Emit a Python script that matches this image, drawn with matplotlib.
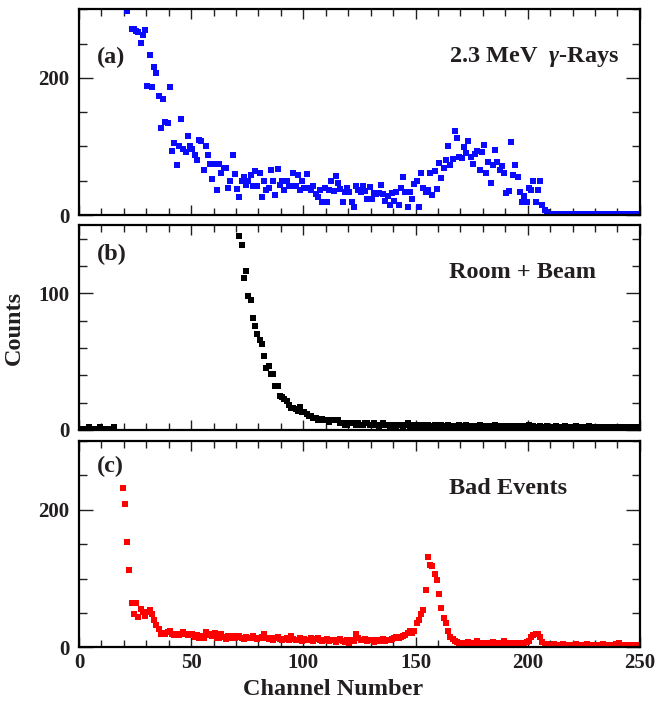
import numpy as np
import matplotlib
matplotlib.use("Agg")
import matplotlib.pyplot as plt
from matplotlib.ticker import MultipleLocator

plt.rcParams['font.family'] = ['Liberation Serif', 'DejaVu Serif']
plt.rcParams['font.weight'] = 'bold'
plt.rcParams['axes.labelweight'] = 'bold'
plt.rcParams['mathtext.fontset'] = 'custom'
plt.rcParams['mathtext.it'] = 'Liberation Serif:italic:bold'
plt.rcParams['mathtext.rm'] = 'Liberation Serif:bold'

# (a) 2.3 MeV gamma-rays, channels 21..250
gamma_ch = np.arange(21, 251)
gamma_counts = [
    297, 320, 272, 272, 268, 267, 251, 262, 270, 188,
    234, 187, 216, 207, 174, 127, 169, 136, 134, 187,
    94, 105, 73, 100, 140, 96, 92, 115, 100, 96,
    87, 80, 109, 108, 66, 100, 87, 75, 52, 75,
    37, 75, 62, 68, 68, 40, 50, 87, 60, 38,
    26, 50, 55, 44, 50, 59, 43, 64, 43, 61,
    27, 50, 37, 40, 65, 49, 29, 67, 44, 50,
    37, 49, 43, 43, 62, 43, 58, 37, 50, 40,
    60, 40, 37, 43, 30, 26, 37, 19, 39, 19,
    37, 50, 35, 57, 47, 38, 19, 34, 39, 34,
    19, 11, 43, 37, 34, 43, 35, 23, 41, 24,
    32, 31, 32, 44, 31, 20, 28, 15, 32, 20,
    33, 15, 39, 56, 34, 11, 34, 23, 45, 49,
    11, 62, 39, 34, 37, 62, 29, 64, 38, 76,
    54, 69, 80, 100, 73, 81, 122, 113, 85, 83,
    99, 91, 108, 85, 75, 89, 94, 66, 92, 102,
    62, 78, 47, 73, 95, 77, 65, 72, 61, 32,
    35, 106, 59, 73, 55, 34, 19, 28, 19, 39,
    37, 49, 19, 37, 50, 15, 7, 4, 2, 1,
    1, 1, 1, 1, 1, 1, 1, 1, 1, 1,
    1, 1, 1, 1, 1, 1, 1, 1, 1, 1,
    1, 1, 1, 1, 1, 1, 1, 1, 1, 1,
    1, 1, 1, 1, 1, 1, 1, 1, 1, 1,
]

# (b) room + beam background
room_ch_low = np.arange(0, 16)
room_counts_low = [1, 1, 1, 1, 2, 1, 1, 1, 1, 2, 1, 1, 1, 1, 1, 2]
room_ch = np.arange(71, 251)
room_counts = [
    142, 135, 111, 116, 98, 95, 82, 76, 70,
    66, 63, 54, 45, 47, 41, 41, 32, 32, 25,
    24, 23, 21, 18, 16, 16, 15, 14, 17, 13,
    13, 12, 10, 10, 9, 9, 7, 7, 8, 7,
    7, 6, 7, 7, 7, 7, 5, 5, 4, 4,
    5, 5, 5, 4, 5, 4, 4, 5, 5, 4,
    4, 5, 4, 3, 4, 5, 4, 4, 3, 4,
    4, 3, 4, 4, 3, 4, 5, 3, 4, 3,
    4, 3, 3, 4, 3, 4, 3, 3, 4, 3,
    3, 4, 3, 3, 4, 3, 3, 2, 3, 4,
    3, 3, 4, 3, 3, 2, 3, 3, 4, 3,
    3, 2, 3, 3, 3, 4, 3, 2, 3, 3,
    3, 3, 2, 3, 3, 2, 3, 3, 2, 3,
    4, 2, 3, 2, 2, 3, 2, 2, 3, 2,
    2, 2, 3, 2, 2, 2, 3, 2, 2, 2,
    2, 3, 2, 2, 2, 2, 2, 3, 2, 2,
    2, 2, 2, 1, 2, 2, 2, 1, 2, 2,
    2, 1, 2, 2, 1, 2, 2, 1, 2, 1, 2,
]

# (c) bad events
bad_ch = np.arange(19, 251)
bad_counts = [
    232, 209, 153, 113, 65, 49, 65, 44, 56, 52, 46,
    52, 54, 48, 40, 33, 27, 20, 21, 20, 22,
    23, 19, 18, 19, 18, 19, 22, 20, 18, 19,
    19, 15, 18, 14, 17, 13, 22, 18, 20, 16,
    21, 14, 13, 19, 15, 12, 16, 14, 17, 13,
    15, 16, 14, 12, 15, 13, 14, 16, 13, 12,
    14, 15, 19, 13, 12, 14, 11, 13, 15, 12,
    10, 12, 14, 11, 16, 12, 10, 11, 13, 9,
    12, 10, 11, 14, 9, 12, 13, 10, 9, 11,
    12, 9, 10, 11, 8, 10, 12, 9, 8, 10,
    7, 11, 9, 19, 13, 11, 10, 12, 9, 11,
    10, 8, 11, 9, 10, 12, 9, 10, 11, 12,
    14, 15, 13, 15, 17, 18, 21, 23, 21, 24,
    35, 40, 48, 54, 83, 131, 119, 118, 106, 98,
    77, 57, 42, 35, 23, 15, 12, 9, 8, 7,
    6, 7, 6, 8, 6, 7, 6, 9, 7, 6,
    7, 6, 7, 6, 8, 6, 7, 6, 7, 9,
    7, 6, 7, 6, 6, 7, 6, 7, 7, 8,
    9, 15, 18, 19, 20, 15, 8, 5, 5, 4,
    4, 5, 4, 4, 4, 5, 4, 4, 4, 4,
    4, 5, 4, 4, 4, 4, 5, 4, 4, 4,
    4, 4, 4, 5, 4, 4, 4, 4, 4, 5,
    6, 4, 4, 4, 3, 4, 4, 3, 4, 3, 3,
]

ink = '#231f20'
fig = plt.figure(figsize=(6.55, 7.02), dpi=100)
ax_a = fig.add_axes([0.1206, 0.6937, 0.8564, 0.2930])
ax_b = fig.add_axes([0.1206, 0.3875, 0.8564, 0.2920])
ax_c = fig.add_axes([0.1206, 0.0779, 0.8564, 0.2939])

ax_a.plot(gamma_ch + 0.5, gamma_counts, 's', color='#0a0aff', ms=4.4, mew=0)
ax_b.plot(room_ch_low + 0.5, room_counts_low, 's', color='black', ms=3.9, mew=0)
ax_b.plot(room_ch + 0.5, room_counts, 's', color='black', ms=3.9, mew=0)
ax_c.plot(bad_ch + 0.5, bad_counts, 's', color='#ff0000', ms=4.0, mew=0)

for ax, ytop, ymaj, ymin in [(ax_a, 300, 200, 50), (ax_b, 150, 100, 20), (ax_c, 300, 200, 50)]:
    ax.set_xlim(0, 250)
    ax.set_ylim(0, ytop)
    ax.xaxis.set_major_locator(MultipleLocator(50))
    ax.xaxis.set_minor_locator(MultipleLocator(10))
    ax.yaxis.set_major_locator(MultipleLocator(ymaj))
    ax.yaxis.set_minor_locator(MultipleLocator(ymin))
    ax.tick_params(which='both', direction='in', top=True, right=True, width=1.0,
                   colors=ink, labelsize=15, labelcolor=ink)
    ax.tick_params(axis='y', which='major', length=10, pad=7)
    ax.tick_params(axis='y', which='minor', length=5.5)
    ax.tick_params(axis='x', which='major', length=7, pad=4)
    ax.tick_params(axis='x', which='minor', length=5)
    for sp in ax.spines.values():
        sp.set_linewidth(1.6)
        sp.set_color('black')

ax_a.tick_params(axis='x', labelbottom=False)
ax_b.tick_params(axis='x', labelbottom=False)

ax_a.text(0.031, 0.768, '(a)', transform=ax_a.transAxes, fontsize=17.5, va='center', color=ink)
ax_a.text(0.66, 0.768, r'2.3 MeV  $\gamma$-Rays', transform=ax_a.transAxes, fontsize=17.5, va='center', color=ink)
ax_b.text(0.031, 0.858, '(b)', transform=ax_b.transAxes, fontsize=17.5, va='center', color=ink)
ax_b.text(0.66, 0.77, 'Room + Beam', transform=ax_b.transAxes, fontsize=17.5, va='center', color=ink)
ax_c.text(0.031, 0.879, '(c)', transform=ax_c.transAxes, fontsize=17.5, va='center', color=ink)
ax_c.text(0.66, 0.77, 'Bad Events', transform=ax_c.transAxes, fontsize=17.5, va='center', color=ink)

ax_c.set_xlabel('Channel Number', fontsize=17.5, fontweight='bold', color=ink)
ax_c.xaxis.set_label_coords(0.453, -0.155)
ax_b.set_ylabel('Counts', fontsize=17.5, fontweight='bold', color=ink)
ax_b.yaxis.set_label_coords(-0.096, 0.5)

fig.savefig('out.png', dpi=100)
